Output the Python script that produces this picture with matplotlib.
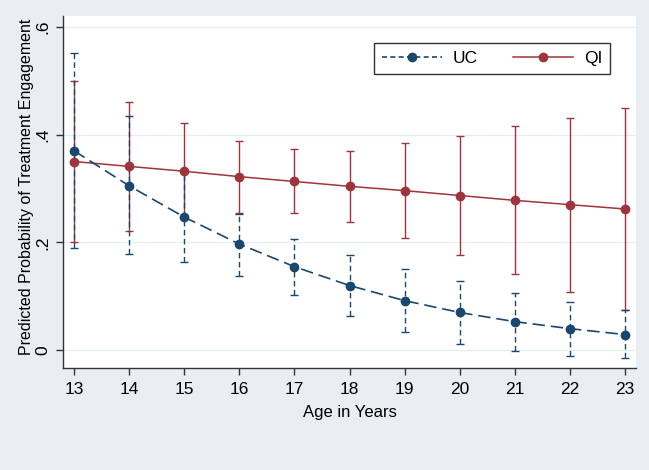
import matplotlib
matplotlib.use("Agg")
import matplotlib.pyplot as plt
from matplotlib.lines import Line2D

plt.rcParams['font.family'] = ['Liberation Sans', 'DejaVu Sans']

ages = [13, 14, 15, 16, 17, 18, 19, 20, 21, 22, 23]
uc_mean = [0.370, 0.305, 0.247, 0.197, 0.155, 0.120, 0.092, 0.070, 0.053, 0.040, 0.029]
uc_low = [0.189, 0.178, 0.164, 0.138, 0.102, 0.064, 0.033, 0.012, -0.002, -0.011, -0.014]
uc_high = [0.551, 0.434, 0.330, 0.252, 0.206, 0.177, 0.150, 0.128, 0.107, 0.090, 0.074]
qi_mean = [0.350, 0.341, 0.332, 0.322, 0.313, 0.304, 0.296, 0.287, 0.278, 0.270, 0.262]
qi_low = [0.200, 0.222, 0.243, 0.255, 0.255, 0.237, 0.209, 0.176, 0.142, 0.108, 0.074]
qi_high = [0.500, 0.460, 0.421, 0.389, 0.373, 0.370, 0.384, 0.397, 0.416, 0.431, 0.449]
y_ticks = [0, 0.2, 0.4, 0.6]
y_ticklabels = ["0", ".2", ".4", ".6"]

navy = "#1a476f"
maroon = "#a0343d"
bg = "#e8eef1"

fig = plt.figure(figsize=(6.49, 4.70), dpi=100, facecolor=bg)
ax = fig.add_axes([63/649, 1-368/470, (636-63)/649, (368-16)/470])
ax.set_facecolor("white")

for y in y_ticks:
    ax.axhline(y, color="#e6eef0", lw=0.9, zorder=0)

uc_err = [[m - l for m, l in zip(uc_mean, uc_low)], [h - m for m, h in zip(uc_mean, uc_high)]]
qi_err = [[m - l for m, l in zip(qi_mean, qi_low)], [h - m for m, h in zip(qi_mean, qi_high)]]

e1 = ax.errorbar(ages, qi_mean, yerr=qi_err, fmt='none', ecolor=maroon, elinewidth=1.0,
                 capsize=2.6, capthick=1.0, zorder=2)
e2 = ax.errorbar(ages, uc_mean, yerr=uc_err, fmt='none', ecolor=navy, elinewidth=1.0,
                 capsize=2.6, capthick=1.0, zorder=2)
for lc in e2[2]:
    lc.set_linestyle((0, (4, 2.5)))

ax.plot(ages, qi_mean, color=maroon, lw=1.1, marker='o', ms=6, zorder=3)
ax.plot(ages, uc_mean, color=navy, lw=1.2, ls=(0, (7.5, 3.5)), marker='o', ms=6, zorder=4)

ax.set_xlim(12.8, 23.2)
ax.set_ylim(-0.033, 0.62)
ax.set_xticks(ages)
ax.set_xticklabels([str(a) for a in ages], fontsize=12.5)
ax.set_yticks(y_ticks)
ax.set_yticklabels(y_ticklabels, fontsize=12.5, rotation=90, va='center')
ax.tick_params(direction='out', length=5, width=1, color="#333333")
ax.tick_params(axis='x', pad=5)
ax.tick_params(axis='y', pad=4)

for s in ['top', 'right']:
    ax.spines[s].set_visible(False)
for s in ['left', 'bottom']:
    ax.spines[s].set_color("#333333")
    ax.spines[s].set_linewidth(1.0)

ax.set_xlabel("Age in Years", fontsize=12, labelpad=6)
ax.set_ylabel("Predicted Probability of Treatment Engagement", fontsize=11.5)
ax.yaxis.set_label_coords(-0.063, 0.516)
ax.yaxis.label.set_va('center')

h1 = Line2D([], [], color=navy, lw=1.2, ls=(0, (3, 2)), marker='o', ms=6)
h2 = Line2D([], [], color=maroon, lw=1.1, marker='o', ms=6)
leg = ax.legend([h1, h2], ["UC", "QI"], loc='upper right', bbox_to_anchor=(0.9546, 0.923),
                ncol=2, fontsize=12.5, handlelength=3.5, columnspacing=2.0, handletextpad=0.6,
                fancybox=False, framealpha=1, borderpad=0.45, borderaxespad=0)
leg.get_frame().set_edgecolor("#333333")
leg.get_frame().set_linewidth(1.0)

fig.savefig("out.png", dpi=100, facecolor=bg)
